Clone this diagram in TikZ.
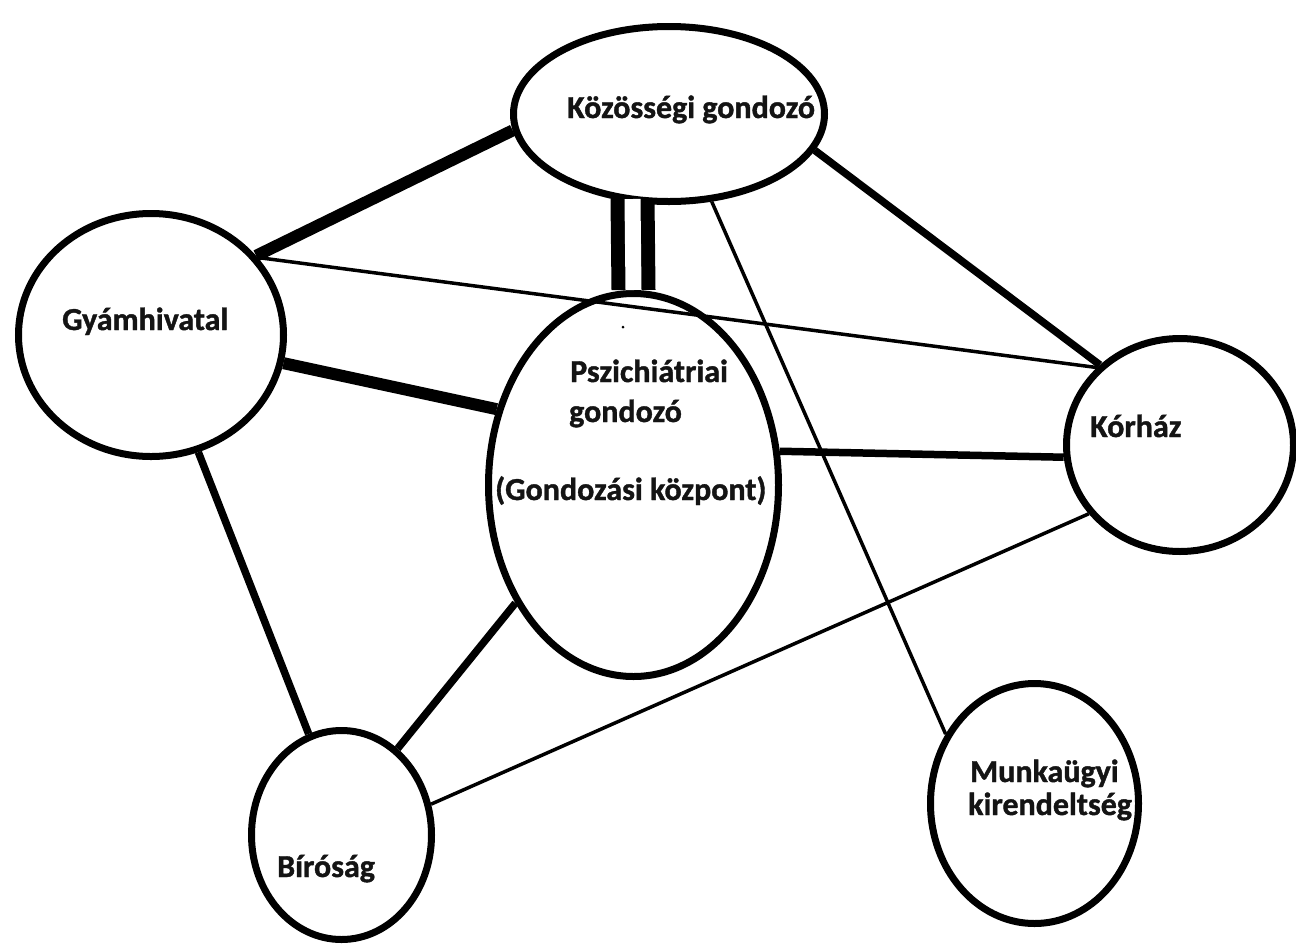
\documentclass[tikz,border=0pt]{standalone}
\usepackage{fontspec}
\setmainfont{Carlito}
\newfontfamily\lblfont{Carlito Bold}[FakeBold=1.2]
\usetikzlibrary{shapes.geometric,calc}
\begin{document}
\begin{tikzpicture}[x=1pt,y=-1pt,
  ell/.style={draw, ellipse, line width=7pt, inner sep=0pt},
  lbl/.style={font=\lblfont\fontsize{32}{38}\selectfont, inner sep=0pt, anchor=base west, text=black!92},
  conthick/.style={line width=12pt},
  conmid/.style={line width=7.5pt},
  conthin/.style={line width=3.5pt}]
\useasboundingbox[fill=white] (0,0) rectangle (1296,946);

% ellipses
\node[ell, minimum width=311pt, minimum height=175pt] (koz) at (669,114) {};
\node[ell, minimum width=265pt, minimum height=243pt] (gy) at (151,335) {};
\node[ell, minimum width=290pt, minimum height=383pt] (psz) at (633.5,485) {};
\node[ell, minimum width=227pt, minimum height=213pt] (kor) at (1180,445) {};
\node[ell, minimum width=180pt, minimum height=209pt] (bir) at (341.5,835) {};
\node[ell, minimum width=208pt, minimum height=240pt] (munk) at (1034.5,803.5) {};

% connectors
\draw[conthick] (gy.37) -- (koz.186);
\draw[conthick] (gy.-12) -- (psz.151);
\draw[conthin] (gy.36) -- (kor.137);
\draw[conmid] (gy.-68) -- (bir.108);
\draw[line width=14pt, double distance=16pt] ($(psz.north |- koz.center)+(-1,85)$) -- (psz.north);
\draw[conmid] (koz.-14) -- (kor.135);
\draw[conthin] (koz.-64) -- (munk.142);
\draw[conmid] (psz.13) -- (kor.186);
\draw[conmid] (psz.225) -- (bir.57);
\draw[conthin] (kor.217) -- (bir.19);

% labels
\node[lbl] (tkoz) at (567,118) {Közösségi gondozó};
\node[lbl] (tgy) at (62,330) {Gyámhivatal};
\node[lbl] (tpsz1) at (570,382) {Pszichiátriai};
\node[lbl] (tpsz2) at (569,422) {gondozó};
\node[lbl] (tpsz3) at (495,500) {(Gondozási központ)};
\node[lbl] (tkor) at (1090,437) {Kórház};
\node[lbl] (tbir) at (277,877) {Bíróság};
\node[lbl] (tmunk1) at (970,782) {Munkaügyi};
\node[lbl] (tmunk2) at (968,815) {kirendeltség};

\fill (623,327) circle (1.5pt);
\end{tikzpicture}
\end{document}
